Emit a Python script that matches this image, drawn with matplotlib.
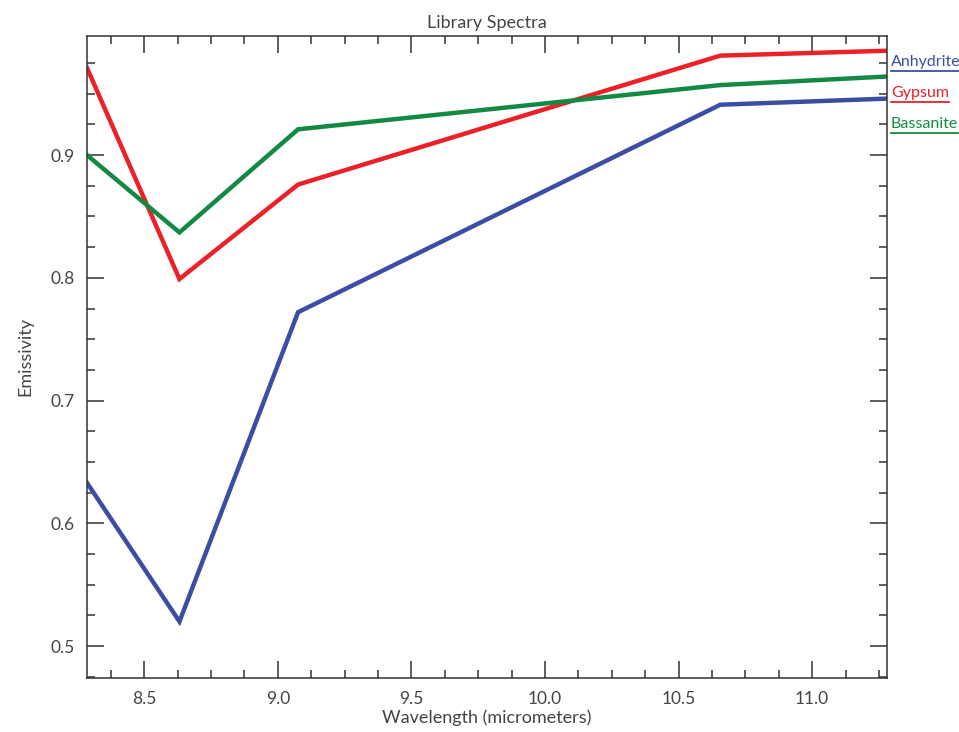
import matplotlib
matplotlib.use('Agg')
import matplotlib.pyplot as plt
from matplotlib.lines import Line2D
from matplotlib.ticker import MultipleLocator

plt.rcParams['font.family'] = ['Lato', 'DejaVu Sans']

BLUE = '#3a4ea3'
RED = '#ec2127'
GREEN = '#138a43'
AXIS = '#333333'
LABEL = '#444444'

wavelength = [8.286, 8.632, 9.076, 10.656, 11.28]
anhydrite = [0.633, 0.520, 0.772, 0.941, 0.946]
gypsum = [0.971, 0.799, 0.876, 0.981, 0.985]
bassanite = [0.900, 0.837, 0.921, 0.957, 0.964]

names = ['Anhydrite', 'Gypsum', 'Bassanite']
series = [anhydrite, gypsum, bassanite]
colors = [BLUE, RED, GREEN]

fig = plt.figure(figsize=(9.59, 7.32), dpi=100)
ax = fig.add_axes([87 / 959, 1 - 678 / 732, 800 / 959, 642 / 732])

for vals, c in zip(series, colors):
    ax.plot(wavelength, vals, color=c, lw=3.2, solid_joinstyle='miter')

ax.set_xlim(8.286, 11.28)
ax.set_ylim(0.474, 0.997)
ax.xaxis.set_major_locator(MultipleLocator(0.5))
ax.xaxis.set_minor_locator(MultipleLocator(0.125))
ax.yaxis.set_major_locator(MultipleLocator(0.1))
ax.yaxis.set_minor_locator(MultipleLocator(0.025))
ax.xaxis.set_major_formatter(plt.FuncFormatter(lambda v, p: f'{v:.1f}'))
ax.yaxis.set_major_formatter(plt.FuncFormatter(lambda v, p: f'{v:.1f}'))

ax.tick_params(which='both', direction='in', top=True, right=True,
               color=AXIS, labelcolor=LABEL, labelsize=12.5, width=1.1)
ax.tick_params(which='major', length=12, pad=9)
ax.tick_params(which='minor', length=6)
for s in ax.spines.values():
    s.set_color(AXIS)
    s.set_linewidth(1.1)

ax.set_title('Library Spectra', color=LABEL, fontsize=13, pad=6)
ax.set_xlabel('Wavelength (micrometers)', color=LABEL, fontsize=13, labelpad=2)
ax.set_ylabel('Emissivity', color=LABEL, fontsize=13, labelpad=12)

# legend as underlined coloured names to the right of the frame
fig.canvas.draw()
renderer = fig.canvas.get_renderer()
for i, (name, c) in enumerate(zip(names, colors)):
    yf = 1 - (62 + 31 * i) / 732
    t = fig.text(891 / 959, yf, name, color=c, fontsize=11.5, va='center', ha='left')
    bb = t.get_window_extent(renderer)
    x0, x1 = bb.x0 / fig.bbox.width, bb.x1 / fig.bbox.width
    yl = (bb.y0 - 2) / fig.bbox.height
    fig.add_artist(Line2D([x0, x1], [yl, yl], color=c, lw=1.3,
                          transform=fig.transFigure))

fig.savefig('out.png', dpi=100, facecolor='white')
